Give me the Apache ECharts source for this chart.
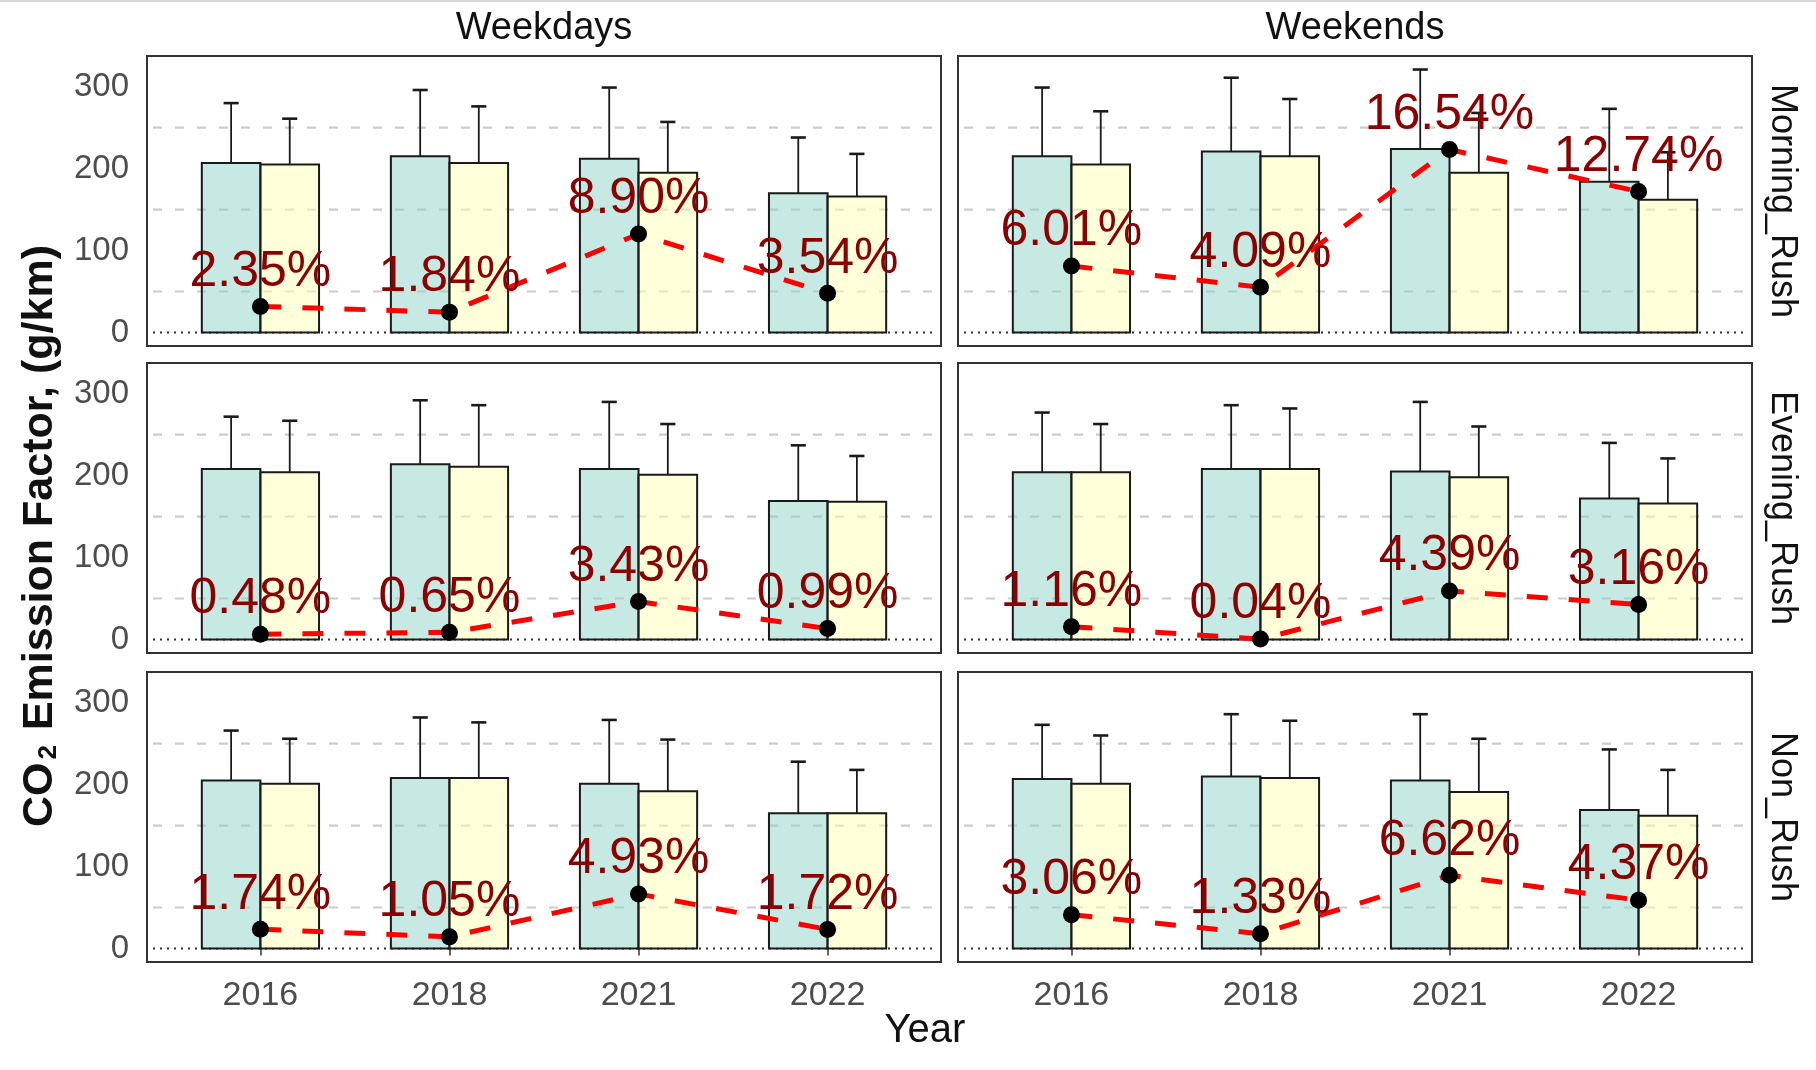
<!DOCTYPE html>
<html>
<head>
<meta charset="utf-8">
<title>CO2 Emission Factor by Year</title>
<script src="https://cdn.jsdelivr.net/npm/echarts@6/dist/echarts.min.js"></script>
<style>
  html, body { margin: 0; padding: 0; background: #ffffff; }
  #chart { width: 1816px; height: 1070px; }
</style>
</head>
<body>
<div id="chart"></div>
<script>
// Facet structure
const YEARS = ['2016', '2018', '2021', '2022'];
const DAY_TYPES = ['Weekdays', 'Weekends'];
const PERIODS = ['Morning_Rush', 'Evening_Rush', 'Non_Rush'];
const Y_TICKS = [0, 100, 200, 300];
const GRID_LEVELS = [50, 150, 250];

// Weekdays, Morning_Rush
const wdMorningA = [207, 215, 212, 170];
const wdMorningAUp = [280, 296, 299, 238];
const wdMorningB = [205, 207, 195, 166];
const wdMorningBUp = [261, 276, 257, 218];
const wdMorningPct = [2.35, 1.84, 8.90, 3.54];

// Weekends, Morning_Rush
const weMorningA = [215, 221, 224, 184];
const weMorningAUp = [299, 311, 321, 273];
const weMorningB = [205, 215, 195, 162];
const weMorningBUp = [270, 285, 268, 220];
const weMorningPct = [6.01, 4.09, 16.54, 12.74];

// Weekdays, Evening_Rush
const wdEveningA = [208, 214, 208, 169];
const wdEveningAUp = [272, 292, 290, 237];
const wdEveningB = [204, 211, 201, 168];
const wdEveningBUp = [267, 286, 263, 224];
const wdEveningPct = [0.48, 0.65, 3.43, 0.99];

// Weekends, Evening_Rush
const weEveningA = [204, 208, 205, 172];
const weEveningAUp = [277, 286, 290, 240];
const weEveningB = [204, 208, 198, 166];
const weEveningBUp = [263, 282, 260, 221];
const weEveningPct = [1.16, 0.04, 4.39, 3.16];

// Weekdays, Non_Rush
const wdNonA = [205, 208, 201, 165];
const wdNonAUp = [266, 282, 279, 228];
const wdNonB = [201, 208, 192, 165];
const wdNonBUp = [256, 276, 255, 218];
const wdNonPct = [1.74, 1.05, 4.93, 1.72];

// Weekends, Non_Rush
const weNonA = [207, 210, 205, 169];
const weNonAUp = [273, 286, 286, 243];
const weNonB = [201, 208, 191, 162];
const weNonBUp = [260, 278, 256, 218];
const weNonPct = [3.06, 1.33, 6.62, 4.37];

// Percent values are plotted on the emission axis with this factor
const PCT_SCALE = 13.5;

const panels = [
  { a: wdMorningA, aUp: wdMorningAUp, b: wdMorningB, bUp: wdMorningBUp, pct: wdMorningPct },
  { a: weMorningA, aUp: weMorningAUp, b: weMorningB, bUp: weMorningBUp, pct: weMorningPct },
  { a: wdEveningA, aUp: wdEveningAUp, b: wdEveningB, bUp: wdEveningBUp, pct: wdEveningPct },
  { a: weEveningA, aUp: weEveningAUp, b: weEveningB, bUp: weEveningBUp, pct: weEveningPct },
  { a: wdNonA, aUp: wdNonAUp, b: wdNonB, bUp: wdNonBUp, pct: wdNonPct },
  { a: weNonA, aUp: weNonAUp, b: weNonB, bUp: weNonBUp, pct: weNonPct }
];

// Layout
const FONT = 'Liberation Sans, Arial, Helvetica, sans-serif';
const COL_LEFT = [147, 958];
const ROW_TOP = [56, 363, 672];
const PANEL_W = 794;
const PANEL_H = 290;
const X_MIN = 0.4, X_MAX = 4.6;
const Y_MIN = -16.5, Y_MAX = 337.5;
const BAR_HALF = 0.155;
const CAP_HALF = 0.04;

const FILL_A = 'rgba(141, 211, 199, 0.5)';
const FILL_B = 'rgba(255, 255, 179, 0.5)';

function barRenderer(offset, fill) {
  return function (params, api) {
    const c = api.value(0) + offset;
    const v = api.value(1);
    const up = api.value(2);
    const tl = api.coord([c - BAR_HALF, v]);
    const br = api.coord([c + BAR_HALF, 0]);
    const mid = api.coord([c, v]);
    const top = api.coord([c, up]);
    const capL = api.coord([c - CAP_HALF, up]);
    const capR = api.coord([c + CAP_HALF, up]);
    return {
      type: 'group',
      children: [
        { type: 'line', shape: { x1: mid[0], y1: mid[1], x2: top[0], y2: top[1] },
          style: { stroke: '#1a1a1a', lineWidth: 1.8 } },
        { type: 'line', shape: { x1: capL[0], y1: capL[1], x2: capR[0], y2: capR[1] },
          style: { stroke: '#1a1a1a', lineWidth: 2.6 } },
        { type: 'rect', shape: { x: tl[0], y: tl[1], width: br[0] - tl[0], height: br[1] - tl[1] },
          style: { fill: fill, stroke: '#1a1a1a', lineWidth: 2 } }
      ]
    };
  };
}

function hlineRenderer(stroke, dash, width) {
  return function (params, api) {
    const v = api.value(0);
    const p0 = api.coord([X_MIN, v]);
    const p1 = api.coord([X_MAX, v]);
    return { type: 'line', shape: { x1: p0[0] + 6, y1: p0[1], x2: p1[0] - 4, y2: p1[1] },
      style: { stroke: stroke, lineWidth: width, lineDash: dash } };
  };
}

const grids = [], xAxes = [], yAxes = [], series = [];

panels.forEach(function (p, k) {
  const row = Math.floor(k / 2), col = k % 2;
  const bottomRow = row === 2, leftCol = col === 0;
  grids.push({
    left: COL_LEFT[col], top: ROW_TOP[row], width: PANEL_W, height: PANEL_H,
    show: true, borderColor: '#333333', borderWidth: 2, backgroundColor: 'transparent'
  });
  xAxes.push({
    gridIndex: k, type: 'value', min: X_MIN, max: X_MAX,
    axisLine: { show: false },
    splitLine: { show: false },
    axisTick: { show: bottomRow, customValues: [1, 2, 3, 4], length: 7,
      lineStyle: { color: '#333333', width: 1.5 } },
    axisLabel: { show: bottomRow, customValues: [1, 2, 3, 4], margin: 17,
      fontSize: 34, color: '#4d4d4d', fontFamily: FONT,
      formatter: function (v) { return YEARS[Math.round(v) - 1]; } }
  });
  yAxes.push({
    gridIndex: k, type: 'value', min: Y_MIN, max: Y_MAX,
    axisLine: { show: false },
    axisTick: { show: false },
    splitLine: { show: false },
    axisLabel: { show: leftCol, customValues: Y_TICKS, margin: 18,
      fontSize: 33, color: '#4d4d4d', fontFamily: FONT, padding: [6, 0, 0, 0] }
  });

  const axisRef = { xAxisIndex: k, yAxisIndex: k };

  series.push(Object.assign({
    type: 'custom', z: 1, silent: true, encode: { y: 0 },
    data: GRID_LEVELS.map(function (v) { return [v]; }),
    renderItem: hlineRenderer('#cccccc', [9, 13], 2.2)
  }, axisRef));
  series.push(Object.assign({
    type: 'custom', z: 1, silent: true, encode: { y: 0 },
    data: [[0]],
    renderItem: hlineRenderer('#333333', [2, 5], 1.8)
  }, axisRef));

  series.push(Object.assign({
    type: 'custom', z: 2, silent: true, encode: { x: 0, y: 1 },
    data: p.a.map(function (v, i) { return [i + 1, v, p.aUp[i]]; }),
    renderItem: barRenderer(-BAR_HALF, FILL_A)
  }, axisRef));
  series.push(Object.assign({
    type: 'custom', z: 2, silent: true, encode: { x: 0, y: 1 },
    data: p.b.map(function (v, i) { return [i + 1, v, p.bUp[i]]; }),
    renderItem: barRenderer(BAR_HALF, FILL_B)
  }, axisRef));

  const pctData = p.pct.map(function (v, i) { return [i + 1, v * PCT_SCALE, v]; });
  series.push(Object.assign({
    type: 'line', z: 3, silent: true, showSymbol: false,
    data: pctData,
    lineStyle: { color: '#ff0000', width: 5, type: [21, 21] }
  }, axisRef));
  series.push(Object.assign({
    type: 'scatter', z: 4, silent: true,
    data: pctData,
    symbol: 'circle', symbolSize: 17,
    itemStyle: { color: '#000000', opacity: 1 },
    label: {
      show: true, position: 'top', distance: 1,
      fontSize: 50, color: '#8b0000', fontFamily: FONT,
      formatter: function (d) { return d.value[2].toFixed(2) + '%'; }
    }
  }, axisRef));
});

const graphics = [
  { type: 'rect', shape: { x: 0, y: 0, width: 1816, height: 2 }, style: { fill: '#d9d9d9' } },
  { type: 'text', x: COL_LEFT[0] + PANEL_W / 2, y: 29,
    style: { text: DAY_TYPES[0], fontSize: 38, fill: '#111111', fontFamily: FONT, align: 'center', verticalAlign: 'middle' } },
  { type: 'text', x: COL_LEFT[1] + PANEL_W / 2, y: 29,
    style: { text: DAY_TYPES[1], fontSize: 38, fill: '#111111', fontFamily: FONT, align: 'center', verticalAlign: 'middle' } },
  { type: 'text', x: 925, y: 1031,
    style: { text: 'Year', fontSize: 40, fill: '#111111', fontFamily: FONT, align: 'center', verticalAlign: 'middle' } },
  { type: 'text', x: 40, y: 536, rotation: Math.PI / 2,
    style: {
      text: '{b|CO}{s|2}{b| Emission Factor, (g/km)}',
      align: 'center', verticalAlign: 'middle', fontFamily: FONT,
      rich: {
        b: { fontSize: 43, fontWeight: 'bold', fill: '#111111', fontFamily: FONT },
        s: { fontSize: 26, fontWeight: 'bold', fill: '#111111', fontFamily: FONT, verticalAlign: 'bottom', padding: [0, 3, 0, 3] }
      }
    } }
];
PERIODS.forEach(function (name, r) {
  graphics.push({ type: 'text', x: 1782, y: ROW_TOP[r] + PANEL_H / 2, rotation: -Math.PI / 2,
    style: { text: name, fontSize: 36, fill: '#111111', fontFamily: FONT, align: 'center', verticalAlign: 'middle' } });
});

const chart = echarts.init(document.getElementById('chart'), null, { renderer: 'canvas' });
chart.setOption({
  animation: false,
  backgroundColor: '#ffffff',
  textStyle: { fontFamily: FONT },
  grid: grids,
  xAxis: xAxes,
  yAxis: yAxes,
  series: series,
  graphic: graphics
});
</script>
</body>
</html>
